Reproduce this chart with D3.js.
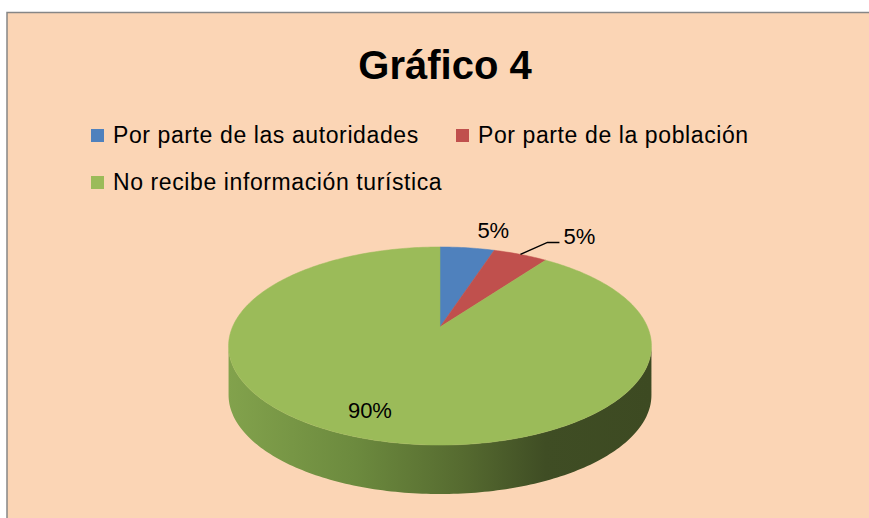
<!DOCTYPE html>
<html>
<head>
<meta charset="utf-8">
<script src="https://cdn.jsdelivr.net/npm/d3@7"></script>
<style>
  body { margin: 0; background: #ffffff; }
  text { font-family: "Liberation Sans", Arial, sans-serif; fill: #000; }
</style>
</head>
<body>
<div class="chart"></div>
<script>
const categories = [
  "Por parte de las autoridades",
  "Por parte de la población",
  "No recibe información turística",
];
const values = [5, 5, 90];
const valueLabels = ["5%", "5%", "90%"];
const colors = ["#4f81bd", "#c0504d", "#9bbb59"];

const width = 869;
const height = 518;

const svg = d3
  .select(".chart")
  .append("svg")
  .attr("width", width)
  .attr("height", height);

// chart area (peach box, its right and bottom edges run off the picture)
svg
  .append("rect")
  .attr("x", 7)
  .attr("y", 12.5)
  .attr("width", 900)
  .attr("height", 600)
  .attr("fill", "#fbd5b5")
  .attr("stroke", "#868686")
  .attr("stroke-width", 1.5);

svg
  .append("text")
  .attr("x", 445)
  .attr("y", 79)
  .attr("text-anchor", "middle")
  .style("font-size", "40px")
  .style("font-weight", "bold")
  .text("Gráfico 4");

// legend
const legendPos = [
  [91, 143],
  [456, 143],
  [91, 190],
];
const legend = svg
  .selectAll(".legend")
  .data(categories)
  .enter()
  .append("g")
  .attr("class", "legend")
  .attr("transform", (d, i) => `translate(${legendPos[i][0]},${legendPos[i][1]})`);

legend
  .append("rect")
  .attr("x", 0)
  .attr("y", -14)
  .attr("width", 13)
  .attr("height", 13)
  .attr("fill", (d, i) => colors[i]);

legend
  .append("text")
  .attr("x", 22)
  .attr("y", 0)
  .style("font-size", "23px")
  .style("letter-spacing", "0.6px")
  .text((d) => d);

// 3d pie, a tilted disc seen in perspective
const cx = 440,
  cy = 327,
  rx = 207.5,
  ry = 95.4,
  persp = 0.192,
  depth = 49;

function project(theta, r, dy) {
  const u = r * Math.sin(theta);
  const v = r * Math.cos(theta);
  const s = 1 / (1 + persp * v);
  return [cx + rx * u * s, cy - ry * v * s + (dy || 0)];
}

function arcPoints(a0, a1, dy) {
  const n = Math.max(2, Math.ceil(((a1 - a0) * 180) / Math.PI));
  return d3.range(n + 1).map((i) => project(a0 + ((a1 - a0) * i) / n, 1, dy));
}

const pie = d3.pie().sort(null).value((d) => d);
const arcs = pie(values);
const line = d3.line();

// side wall between the two silhouette points
const defs = svg.append("defs");
const grad = defs
  .append("linearGradient")
  .attr("id", "side")
  .attr("gradientUnits", "userSpaceOnUse")
  .attr("x1", cx - rx * 1.02)
  .attr("x2", cx + rx * 1.02)
  .attr("y1", 0)
  .attr("y2", 0);
[
  [0, "#82a24c"],
  [0.3, "#6c8a3e"],
  [0.55, "#566b30"],
  [0.75, "#3f4d24"],
  [1, "#3d4a22"],
].forEach(([o, c]) => grad.append("stop").attr("offset", o).attr("stop-color", c));

const sil = Math.acos(-persp);
const front = arcPoints(sil, 2 * Math.PI - sil, 0);
const back = arcPoints(sil, 2 * Math.PI - sil, depth).reverse();
svg
  .append("path")
  .attr("d", line(front.concat(back)) + "Z")
  .attr("fill", "url(#side)");

// top faces
svg
  .selectAll(".slice")
  .data(arcs)
  .enter()
  .append("path")
  .attr("class", "slice")
  .attr("d", (d) => line([[cx, cy]].concat(arcPoints(d.startAngle, d.endAngle, 0))) + "Z")
  .attr("fill", (d, i) => colors[i])
  .attr("stroke", (d, i) => colors[i])
  .attr("stroke-width", 0.5);

// data labels
const mid = (d) => (d.startAngle + d.endAngle) / 2;

// blue: just above its rim
const p0 = project(mid(arcs[0]), 1);
svg
  .append("text")
  .attr("x", p0[0] + 26)
  .attr("y", p0[1] - 10)
  .attr("text-anchor", "middle")
  .style("font-size", "22px")
  .text(valueLabels[0]);

// red: pulled out with a leader line
const p1 = project(mid(arcs[1]), 1);
const elbow = [p1[0] + 27, p1[1] - 12];
const end = [elbow[0] + 12, elbow[1]];
svg
  .append("path")
  .attr("d", line([p1, elbow, end]))
  .attr("fill", "none")
  .attr("stroke", "#000")
  .attr("stroke-width", 1.5);
svg
  .append("text")
  .attr("x", end[0] + 4)
  .attr("y", end[1] + 2)
  .style("font-size", "22px")
  .text(valueLabels[1]);

// green: inside the face
const p2 = project(mid(arcs[2]), 0.8);
svg
  .append("text")
  .attr("x", p2[0] - 10)
  .attr("y", p2[1] + 6)
  .attr("text-anchor", "middle")
  .style("font-size", "22px")
  .text(valueLabels[2]);
</script>
</body>
</html>
